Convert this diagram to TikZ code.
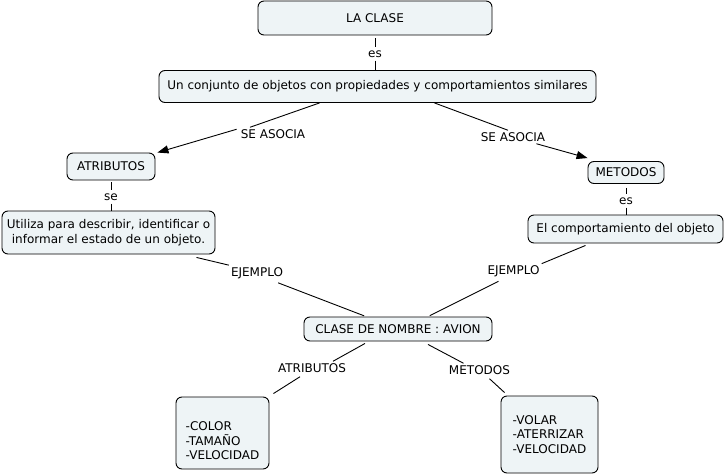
\documentclass[tikz,border=0pt]{standalone}
\usepackage{fontspec}
\setmainfont{DejaVu Sans}
\usetikzlibrary{arrows.meta}
\definecolor{boxfill}{RGB}{238,244,246}
\tikzset{
  concept/.style={draw=black, line width=0.9pt, fill=boxfill, rounded corners=6pt,
    inner sep=2pt, font=\fontsize{12}{14.5}\selectfont},
  lbl/.style={inner sep=2pt, font=\fontsize{12}{14.5}\selectfont},
  conn/.style={draw=black, line width=0.9pt},
  arr/.style={conn, -{Triangle[length=11pt,width=8pt]}}
}
\begin{document}
\begin{tikzpicture}[x=1pt,y=-1pt]
\useasboundingbox[fill=white] (0,0) rectangle (725,476);
% concepts
\node[concept, minimum width=234pt, minimum height=34pt] (lc) at (375,18) {LA CLASE};
\node[concept, minimum width=437pt, minimum height=32pt] (conj) at (377.5,86.5) {Un conjunto de objetos con propiedades y comportamientos similares};
\node[concept, minimum width=88pt, minimum height=27pt] (atr) at (111,166.5) {ATRIBUTOS};
\node[concept, minimum width=213pt, minimum height=43pt, align=center] (util) at (108.5,232.5) {Utiliza para describir, identificar o\\informar el estado de un objeto.};
\node[concept, minimum width=76pt, minimum height=22pt] (met) at (626,172.5) {METODOS};
\node[concept, minimum width=195pt, minimum height=28pt] (elc) at (625.5,229) {El comportamiento del objeto};
\node[concept, minimum width=188pt, minimum height=24pt] (clase) at (398,329) {CLASE DE NOMBRE : AVION};
\node[concept, minimum width=93pt, minimum height=72pt, align=left] (lbox) at (222.5,433) {\strut\\-COLOR\\-TAMAÑO\\-VELOCIDAD};
\node[concept, minimum width=97pt, minimum height=77pt, align=left] (rbox) at (549.5,434.5) {-VOLAR\\-ATERRIZAR\\-VELOCIDAD};
% linking labels
\node[lbl, inner sep=3pt] (es1) at (375,54) {es};
\node[lbl] (sa1) at (273,134) {SE ASOCIA};
\node[lbl] (sa2) at (513,137) {SE ASOCIA};
\node[lbl, inner sep=3pt] (se1) at (111,197) {se};
\node[lbl, inner sep=3pt] (es2) at (626,201) {es};
\node[lbl] (ej1) at (257,273) {EJEMPLO};
\node[lbl] (ej2) at (513.5,271.5) {EJEMPLO};
\node[lbl] (at2) at (312,368) {ATRIBUTOS};
\node[lbl] (mt2) at (479.5,370) {METODOS};
% connectors
\draw[conn, shorten <=3pt] (lc) -- (es1);
\draw[conn] (es1) -- (es1 |- conj.north);
\draw[conn] ([xshift=-58pt]conj.south) -- ([xshift=-23pt]sa1.north);
\draw[arr] ([xshift=-2pt,yshift=-2pt]sa1.north west) -- ([xshift=2pt]atr.north east);
\draw[conn] ([xshift=57pt]conj.south) -- ([xshift=-5pt]sa2.north);
\draw[arr] ([xshift=-11pt]sa2.south east) -- ([yshift=3pt]met.north west);
\draw[conn, shorten <=2pt] (atr) -- (se1);
\draw[conn] (se1) -- (se1 |- util.north);
\draw[conn, shorten <=4pt] (met) -- (es2);
\draw[conn] (es2) -- (es2 |- elc.north);
\draw[conn] ([xshift=88pt,yshift=-3pt]util.south) -- (ej1.north west);
\draw[conn, shorten >=2pt] ([xshift=-7pt,yshift=-2pt]ej1.south east) -- ([xshift=-32pt]clase.north);
\draw[conn] ([xshift=-40pt,yshift=-2pt]elc.south) -- (ej2.north east);
\draw[conn, shorten >=2pt] ([xshift=-15pt,yshift=-2pt]ej2.south) -- ([xshift=30pt]clase.north);
\draw[conn] ([xshift=-33pt,yshift=-2pt]clase.south) -- ([xshift=21pt]at2.north);
\draw[conn] ([xshift=-12pt,yshift=-2pt]at2.south) -- ([xshift=4pt,yshift=3pt]lbox.north east);
\draw[conn] ([xshift=30pt,yshift=-3pt]clase.south) -- ([xshift=-16pt]mt2.north);
\draw[conn] ([xshift=10pt,yshift=-2pt]mt2.south) -- ([xshift=4pt,yshift=3pt]rbox.north west);
\end{tikzpicture}
\end{document}
